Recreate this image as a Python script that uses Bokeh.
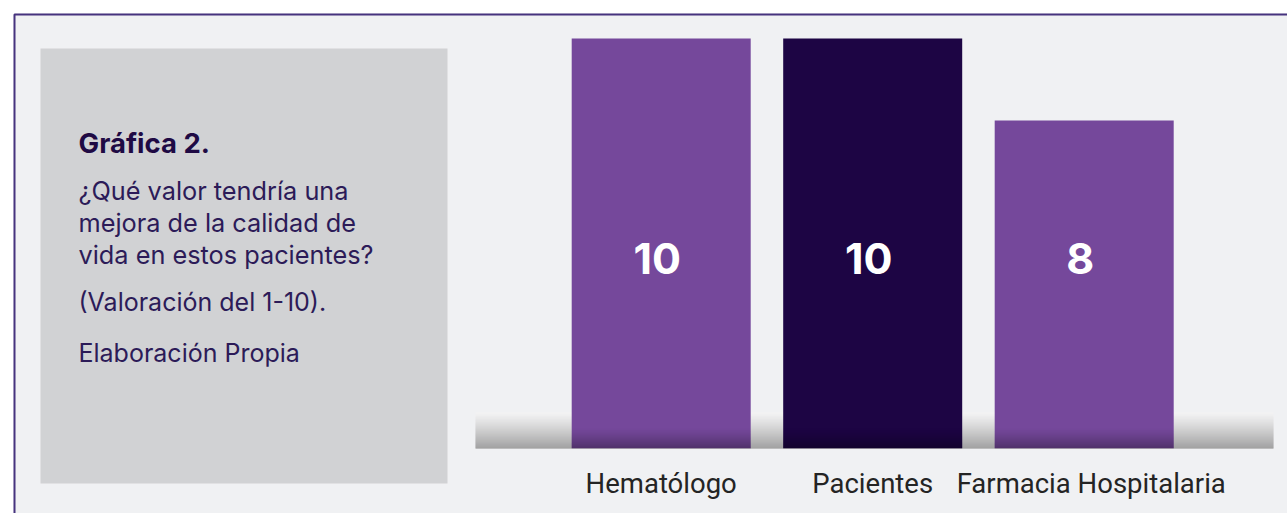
from bokeh.plotting import figure
from bokeh.models import Range1d
from bokeh.core.properties import value
from bokeh.embed import file_html
from bokeh.resources import INLINE

# ---- data ----
categories = ["Hematólogo", "Pacientes", "Farmacia Hospitalaria"]
scores = [10, 10, 8]
score_labels = ["10", "10", "8"]
bar_colors = ["#75489b", "#1d0544", "#75489b"]

title_text = "Gráfica 2."
body_lines = ["¿Qué valor tendría una", "mejora de la calidad de", "vida en estos pacientes?"]
note_lines = ["(Valoración del 1-10).", "Elaboración Propia"]

W, H = 1287, 513
# pixel -> data mapping (bars)
px0, spacing = 660.7, 211.5
base_y, px_per_unit = 447.7, 40.97

p = figure(width=W, height=H, output_backend="svg", toolbar_location=None,
           x_axis_type=None, y_axis_type=None, min_border=0,
           x_range=Range1d((0 - px0) / spacing, (W - px0) / spacing),
           y_range=Range1d(-(H - base_y) / px_per_unit, (base_y - 0) / px_per_unit))
p.extra_x_ranges = {"px": Range1d(0, W)}
p.extra_y_ranges = {"py": Range1d(H, 0)}
p.grid.visible = False
p.outline_line_color = None
p.background_fill_color = "white"
p.border_fill_color = "white"

PX = dict(x_range_name="px", y_range_name="py")

# panel background
p.quad(left=[13], right=[W], top=[13], bottom=[H], fill_color="#f0f1f3", line_color=None, **PX)
# gray text box
p.quad(left=[40], right=[447], top=[48], bottom=[483], fill_color="#d1d2d4", line_color=None, **PX)

# floor gradient
n = 36
for k in range(n):
    t = k / (n - 1)
    c = int(round(243 - (243 - 136) * t ** 1.15))
    p.quad(left=[475], right=[1273], top=[412 + k], bottom=[413 + k],
           fill_color=(c, c, c), line_color=None, **PX)

# bars
xs = list(range(len(categories)))
bw = 179 / spacing
p.vbar(x=xs, top=scores, bottom=0, width=bw, fill_color=bar_colors, line_color=None)

# bottom shading on bars
m = 20
for k in range(m):
    t = (k + 1) / m
    y_top = (m - k) / px_per_unit
    y_bot = (m - k - 1) / px_per_unit
    p.vbar(x=xs, top=y_top, bottom=y_bot, width=bw, fill_color="black",
           fill_alpha=0.32 * t ** 1.3, line_color=None)

# value labels
p.text(x=xs, y=[(base_y - 258) / px_per_unit] * len(xs), text=score_labels,
       x_offset=-4, text_align="center", text_baseline="middle", text_color="white",
       text_font=value("Inter"), text_font_style="bold", text_font_size="43px")

# category labels
p.text(x=xs, y=[-(483 - base_y) / px_per_unit] * len(xs), text=categories,
       x_offset=[0, 0, 7], text_align="center", text_baseline="middle", text_color="#242424",
       text_font=value("Roboto"), text_font_size="27.5px")

# left text
p.text(x=[78], y=[142], text=[title_text], text_align="left", text_baseline="middle",
       text_color="#1f0a44", text_font=value("Inter"), text_font_style="bold",
       text_font_size="27.5px", **PX)
p.text(x=[78] * 3, y=[190, 222, 254], text=body_lines, text_align="left",
       text_baseline="middle", text_color="#2c1b58", text_font=value("Inter"),
       text_font_size="25.3px", **PX)
p.text(x=[78] * 2, y=[301, 352], text=note_lines, text_align="left",
       text_baseline="middle", text_color="#2c1b58", text_font=value("Inter"),
       text_font_size="25px", **PX)

# border
p.line(x=[14, 14, W], y=[H, 14, 14], line_color="#46337e", line_width=2, **PX)

open("out.html", "w").write(file_html(p, INLINE))
